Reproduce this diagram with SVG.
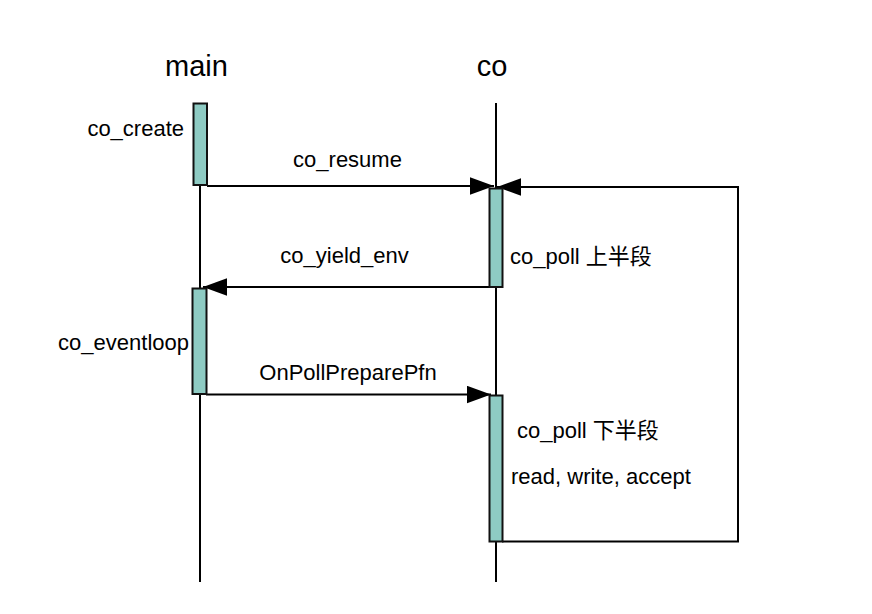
<svg xmlns="http://www.w3.org/2000/svg" width="872" height="614" viewBox="0 0 872 614">
<style>
text{font-family:"Liberation Sans","Noto Sans CJK SC",Arial,sans-serif;fill:#000}
.title{font-size:29px;text-anchor:middle}
.lbl{font-size:22px}
.mid{text-anchor:middle}
.end{text-anchor:end}
.life{stroke:#000;stroke-width:2;fill:none}
.act{fill:#8ecbc3;stroke:#111;stroke-width:2}
.msg{stroke:#000;stroke-width:2;fill:none}
</style>
<defs>
<marker id="ah" markerUnits="userSpaceOnUse" markerWidth="24" markerHeight="18" viewBox="0 0 22 16" refX="22" refY="8" orient="auto">
<path d="M0,0 L22,8 L0,16 Z" fill="#000"/>
</marker>
</defs>
<rect width="872" height="614" fill="#fff"/>
<g id="lifelines">
<line class="life" x1="200" y1="103" x2="200" y2="582"/>
<line class="life" x1="496" y1="103" x2="496" y2="582"/>
</g>
<g id="main-header"><text class="title" x="196.5" y="76">main</text></g>
<g id="co-header"><text class="title" x="492" y="76">co</text></g>
<g id="connectors">
<line class="msg" x1="207" y1="186" x2="494" y2="186" marker-end="url(#ah)"/>
<line class="msg" x1="496" y1="287" x2="203" y2="287" marker-end="url(#ah)"/>
<line class="msg" x1="206" y1="394.5" x2="491" y2="394.5" marker-end="url(#ah)"/>
<path class="msg" d="M502,541.5 L738,541.5 L738,187 L497,187" marker-end="url(#ah)"/>
</g>
<g id="main-act1">
<rect class="act" x="193.5" y="103.5" width="13.5" height="81.5"/>
<text class="lbl end" x="184" y="136">co_create</text>
</g>
<g id="co-act1">
<rect class="act" x="489.5" y="188.5" width="13" height="98.5"/>
<text class="lbl" x="510" y="264">co_poll 上半段</text>
</g>
<g id="main-act2">
<rect class="act" x="192.5" y="288.5" width="14" height="105.5"/>
<text class="lbl end" x="189" y="350">co_eventloop</text>
</g>
<g id="co-act2">
<rect class="act" x="489.5" y="395.5" width="13" height="146"/>
<text class="lbl" x="517" y="438">co_poll 下半段</text>
<text class="lbl" x="511" y="484">read, write, accept</text>
</g>
<g id="labels">
<text class="lbl mid" x="347.5" y="167">co_resume</text>
<text class="lbl mid" x="344.5" y="263">co_yield_env</text>
<text class="lbl mid" x="348" y="380">OnPollPreparePfn</text>
</g>
</svg>
